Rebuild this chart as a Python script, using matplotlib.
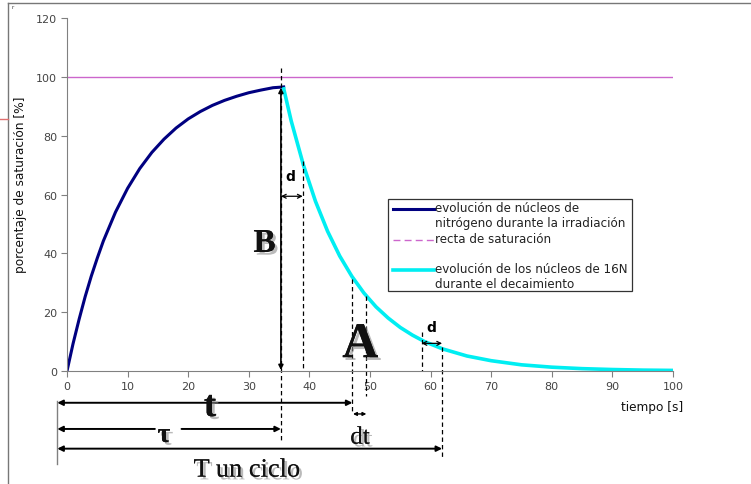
import matplotlib
matplotlib.use("Agg")
import matplotlib.pyplot as plt
import matplotlib.patheffects as pe
from matplotlib.lines import Line2D
from matplotlib.patches import Rectangle

# irradiation phase (build-up of N-16)
t_charge = [0, 1, 2, 3, 4, 5, 6, 8, 10, 12, 14, 16, 18, 20, 22, 24, 26, 28, 30, 32, 34, 36]
p_charge = [0, 9.3, 17.6, 25.3, 32.2, 38.4, 44.2, 54.0, 62.1, 68.8, 74.3, 78.8, 82.6,
            85.7, 88.2, 90.3, 92.0, 93.4, 94.6, 95.5, 96.3, 96.6]

# decay phase
t_decay = [35.7, 37, 39, 41, 43, 45, 47, 49, 51, 53, 55, 57, 59, 62, 66, 70, 75, 80, 85, 90, 95, 100]
p_decay = [96.5, 85.0, 70.1, 57.7, 47.5, 39.1, 32.2, 26.5, 21.8, 18.0, 14.8, 12.2, 10.0,
           7.5, 5.1, 3.5, 2.1, 1.3, 0.8, 0.5, 0.3, 0.2]

saturation = 100
x_ticks = [0, 10, 20, 30, 40, 50, 60, 70, 80, 90, 100]
y_ticks = [0, 20, 40, 60, 80, 100, 120]

legend_labels = ["evolución de núcleos de\nnitrógeno durante la irradiación",
                 "recta de saturación",
                 "evolución de los núcleos de 16N\ndurante el decaimiento"]

NAVY = "#000080"
CYAN = "#00eef2"
PINK = "#cc66cc"
GREY = "#808080"

fig = plt.figure(figsize=(7.51, 4.85), dpi=100)
ax = fig.add_axes([67 / 751, 113 / 485, 606 / 751, 353 / 485])

ax.axhline(saturation, color=PINK, lw=1)
ax.plot(t_charge, p_charge, color=NAVY, lw=2.2, solid_capstyle="butt")
ax.plot(t_decay, p_decay, color=CYAN, lw=2.6, solid_capstyle="butt")

ax.set_xlim(0, 100)
ax.set_ylim(0, 120)
ax.set_xticks(x_ticks)
ax.set_yticks(y_ticks)
for s in ["top", "right"]:
    ax.spines[s].set_visible(False)
for s in ["left", "bottom"]:
    ax.spines[s].set_color(GREY)
ax.tick_params(direction="out", length=4, color=GREY, labelcolor="#444444", labelsize=8, pad=3)
ax.set_ylabel("porcentaje de saturación [%]", fontsize=8.7, color="#111111")
ax.yaxis.set_label_coords(-0.066, 0.53)
ax.text(96.5, -12, "tiempo [s]", fontsize=8.7, color="#111111", ha="center", va="center")

# annotation helpers
def vdash(x, y0, y1):
    ax.plot([x, x], [y0, y1], color="k", lw=0.9, ls=(0, (3.5, 2.5)), clip_on=False)

def arrow(x0, x1, y, style="<|-|>", lw=1.4, scale=8):
    ax.annotate("", xy=(x1, y), xytext=(x0, y), annotation_clip=False,
                arrowprops=dict(arrowstyle=style, color="k", lw=lw, mutation_scale=scale,
                                shrinkA=0, shrinkB=0))

shadow = [pe.withSimplePatchShadow(offset=(2, -2), shadow_rgbFace="0.55", alpha=0.6), pe.Normal()]

def big(x, y, s, size, weight="bold"):
    ax.text(x, y, s, fontsize=size, fontweight=weight, family="Liberation Serif",
            ha="center", va="baseline", color="#111111", path_effects=shadow, clip_on=False)

tau_end = 35.3
vdash(tau_end, 103, -23.7)
ax.annotate("", xy=(tau_end, 0.3), xytext=(tau_end, 96.3), annotation_clip=False,
            arrowprops=dict(arrowstyle="<|-|>", color="k", lw=1.2, mutation_scale=7,
                            shrinkA=0, shrinkB=0))
big(32.6, 40.5, "B", 24)

# first d
vdash(38.9, 71.5, 0)
arrow(tau_end, 38.9, 59.4, style="<->", lw=0.9, scale=7)
ax.text(36.9, 66.2, "d", fontsize=10, fontweight="bold", ha="center", va="center")

# A region
vdash(47.1, 31.4, -14.2)
vdash(49.4, 25.4, -8.5)
big(48.4, 4.7, "A", 36)

# second d
vdash(58.5, 13.3, 0)
vdash(61.9, 8.0, -29.2)
arrow(58.5, 61.9, 9.4, style="<->", lw=0.9, scale=7)
ax.text(60.1, 14.8, "d", fontsize=10, fontweight="bold", ha="center", va="center")

# time arrows below the axis
x_left = -1.6
ax.plot([x_left, x_left], [-10.2, -31.5], color=GREY, lw=1, clip_on=False)
arrow(x_left, 47.1, -10.8)
big(23.6, -15.3, "t", 27)
arrow(x_left, 14.5, -19.7, style="<|-")
arrow(18.9, tau_end, -19.7, style="-|>")
big(16.0, -24.1, "τ", 20)
arrow(47.2, 49.4, -14.6, lw=1.0, scale=5)
big(48.35, -24.7, "dt", 18, weight="normal")
arrow(x_left, 61.9, -26.4)
big(29.7, -35.9, "T un ciclo", 19, weight="normal")

# legend drawn as a box inside the axes
def px(x, y):
    return ((x - 67) / 606, (372 - y) / 353)

x0, y0 = px(388, 292)
x1, y1 = px(632, 200)
ax.add_patch(Rectangle((x0, y0), x1 - x0, y1 - y0, transform=ax.transAxes,
                       fill=False, edgecolor="#333333", lw=0.9, clip_on=False))
handles = [(NAVY, "-", 2.2, 210, 202), (PINK, (0, (5, 3)), 1.0, 241, 233), (CYAN, "-", 2.6, 271, 263)]
for (c, ls, lw, yh, yt), lab in zip(handles, legend_labels):
    hx0, hy = px(393, yh)
    hx1, _ = px(434, yh)
    ax.add_line(Line2D([hx0, hx1], [hy, hy], color=c, ls=ls, lw=lw, transform=ax.transAxes,
                       clip_on=False))
    tx, ty = px(435, yt)
    ax.text(tx, ty, lab, transform=ax.transAxes, fontsize=8.6, color="#222222",
            va="top", ha="left", linespacing=1.2)

# outer frame and stray marks of the original image
fig.add_artist(Line2D([8 / 751, 8 / 751], [0, 1 - 4 / 485], color="#777777", lw=1))
fig.add_artist(Line2D([8 / 751, 1], [1 - 4 / 485, 1 - 4 / 485], color="#777777", lw=1))
fig.add_artist(Line2D([0, 8 / 751], [1 - 120 / 485, 1 - 120 / 485], color="#e07070", lw=1))
fig.text(11 / 751, 1 - 9 / 485, "r", fontsize=4, color="#333333")

fig.savefig("out.png", dpi=100)
